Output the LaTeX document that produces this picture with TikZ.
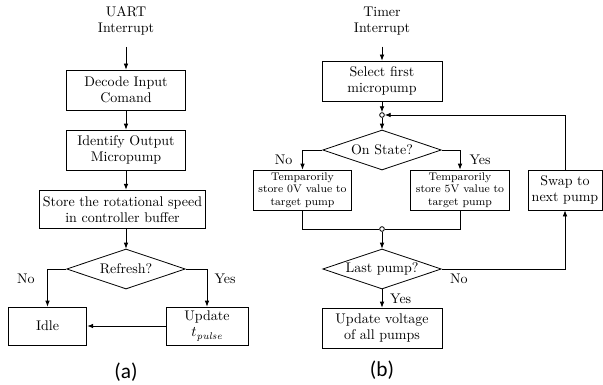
\documentclass[tikz,border=0pt]{standalone}
\usepackage{fontspec}
\newfontfamily\capfont{Carlito}
\usetikzlibrary{shapes.geometric,arrows.meta}

\tikzset{
	box/.style={rectangle, draw, align=center, inner sep=1pt, minimum width=89pt, minimum height=30pt, font=\fontsize{10.5}{12}\selectfont},
	smallbox/.style={box, minimum width=74pt, font=\fontsize{8.3}{9.5}\selectfont},
	decision/.style={diamond, draw, aspect=3, inner sep=0pt, minimum width=89pt, minimum height=30pt, font=\fontsize{10.5}{12}\selectfont},
	junction/.style={circle, draw, fill=white, inner sep=0pt, minimum size=3.5pt},
	lbl/.style={align=center, font=\fontsize{10.5}{12}\selectfont},
	caption/.style={inner sep=0pt, font=\capfont\fontsize{16}{17}\selectfont},
	flow/.style={-{Latex[length=4.5pt,width=3.5pt]}},
}

\begin{document}
\begin{tikzpicture}[x=0.75pt, y=-0.75pt, line width=0.6pt]
			\useasboundingbox (0,0) rectangle (603,385);
			% (a) UART interrupt
			\node[lbl] (uart) at (126,21) {UART\\Interrupt};
			\node[box] (decode) at (126,90) {Decode Input\\Comand};
			\node[box] (identify) at (126,150) {Identify Output\\Micropump};
			\node[box, minimum width=125pt, minimum height=29pt] (store) at (122.5,209.5) {Store the rotational speed\\in controller buffer};
			\node[decision] (refresh) at (126,269) {Refresh?};
			\node[box, minimum width=59pt, minimum height=28.5pt] (idle) at (47.5,326) {Idle};
			\node[box, minimum width=61.5pt, minimum height=28.5pt] (update) at (207,326) {Update\\$t_{\mathit{pulse}}$};
			\node[caption] (capa) at (126,372) {(a)};
			\draw[flow, shorten <=5pt] (uart) -- (decode);
			\draw[flow] (decode) -- (identify);
			\draw[flow] (identify.south) -- (identify.south |- store.north);
			\draw[flow] (refresh.north |- store.south) -- (refresh.north);
			\draw[flow] (refresh.west) -| node[lbl, pos=0.63, anchor=east, xshift=-6pt] {No} (idle.north);
			\draw[flow] (refresh.east) -| node[lbl, pos=0.63, anchor=west, xshift=2pt] {Yes} (update.north);
			\draw[flow] (update) -- (idle);
			% (b) Timer interrupt
			\node[lbl] (timer) at (382,21) {Timer\\Interrupt};
			\node[box, minimum width=90pt] (select) at (382,81) {Select first\\micropump};
			\node[junction] (join1) at (382,115) {};
			\node[decision] (onstate) at (382,150) {On State?};
			\node[smallbox] (store0) at (302.5,190) {Temparorily\\store 0V value to\\target pump};
			\node[smallbox] (store5) at (460,190) {Temparorily\\store 5V value to\\target pump};
			\node[box, minimum width=55.5pt] (swap) at (565,190) {Swap to\\next pump};
			\node[junction] (join2) at (382,229) {};
			\node[decision] (lastpump) at (382,269) {Last pump?};
			\node[box, minimum width=90pt] (updateall) at (382,328) {Update voltage\\of all pumps};
			\node[caption] (capb) at (382,370) {(b)};
			\draw[flow, shorten <=5pt] (timer) -- (select);
			\draw[flow] (select) -- (join1);
			\draw[flow] (join1) -- (onstate);
			\draw[flow] (onstate.west) -| node[lbl, pos=0.75, anchor=east, xshift=-4pt] {No} (store0.north);
			\draw[flow] (onstate.east) -| node[lbl, pos=0.75, anchor=west, xshift=3.5pt] {Yes} (store5.north);
			\draw (store0.south) |- (join2.west);
			\draw (store5.south) |- (join2.east);
			\draw[flow] (join2) -- (lastpump);
			\draw[flow] (lastpump.east) -| node[lbl, pos=0.07, anchor=north] {No} (swap.south);
			\draw[flow] (swap.north) |- (join1.east);
			\draw[flow] (lastpump) -- node[lbl, pos=0.5, anchor=west, xshift=2.5pt] {Yes} (updateall);
		\end{tikzpicture}
\end{document}
